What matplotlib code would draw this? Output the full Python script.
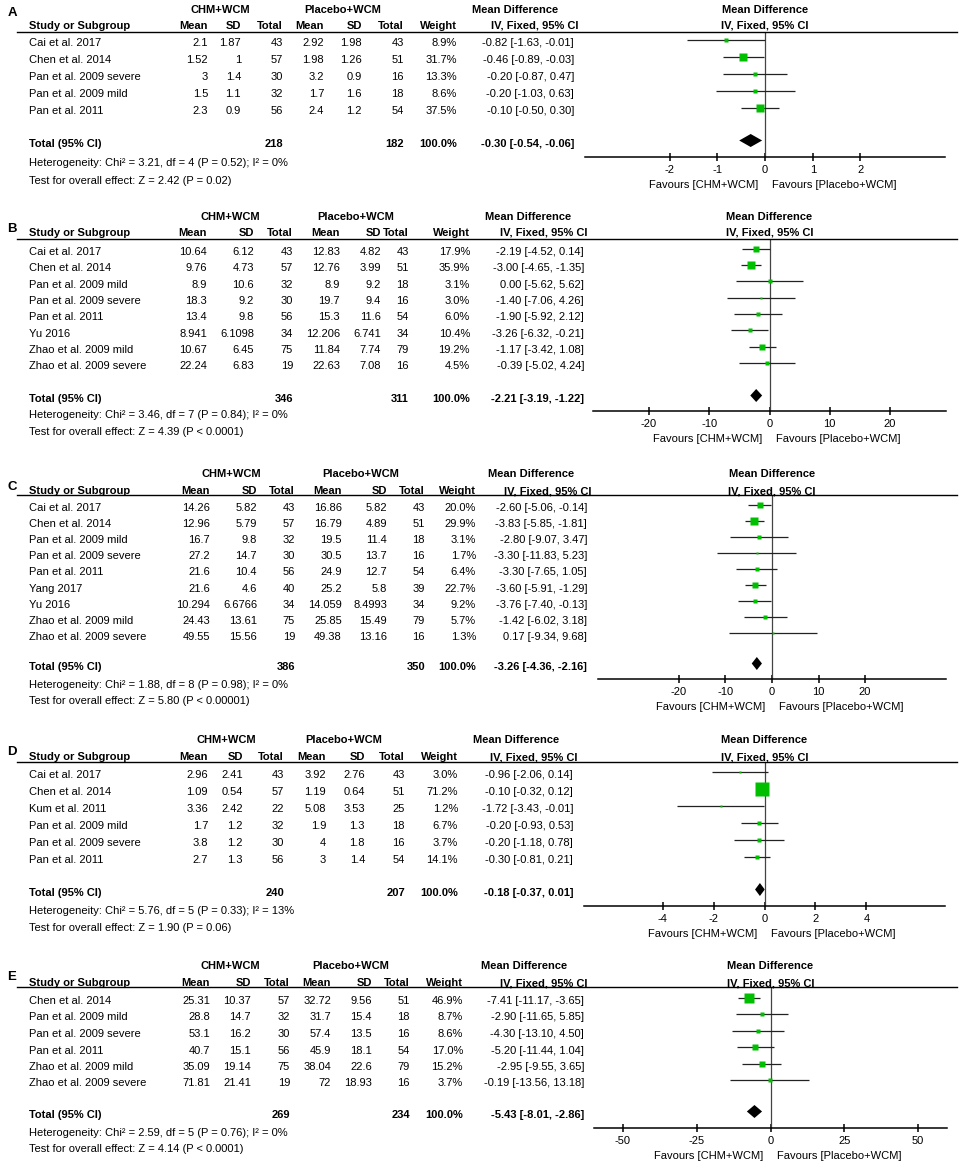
import matplotlib
matplotlib.use("Agg")
import matplotlib.pyplot as plt
from matplotlib.lines import Line2D

plt.rcParams['font.family'] = ['Liberation Sans', 'DejaVu Sans']

# ---- panel A ----
a_study = ["Cai et al. 2017", "Chen et al. 2014", "Pan et al. 2009 severe", "Pan et al. 2009 mild", "Pan et al. 2011"]
a_m1 = [2.1, 1.52, 3, 1.5, 2.3]
a_sd1 = [1.87, 1, 1.4, 1.1, 0.9]
a_n1 = [43, 57, 30, 32, 56]
a_m2 = [2.92, 1.98, 3.2, 1.7, 2.4]
a_sd2 = [1.98, 1.26, 0.9, 1.6, 1.2]
a_n2 = [43, 51, 16, 18, 54]
a_w = [8.9, 31.7, 13.3, 8.6, 37.5]
a_md = [-0.82, -0.46, -0.20, -0.20, -0.10]
a_lo = [-1.63, -0.89, -0.87, -1.03, -0.50]
a_hi = [-0.01, -0.03, 0.47, 0.63, 0.30]
a_total = [218, 182, -0.30, -0.54, -0.06]
a_het = "Heterogeneity: Chi² = 3.21, df = 4 (P = 0.52); I² = 0%"
a_test = "Test for overall effect: Z = 2.42 (P = 0.02)"
a_ticks = [-2, -1, 0, 1, 2]

# ---- panel B ----
b_study = ["Cai et al. 2017", "Chen et al. 2014", "Pan et al. 2009 mild", "Pan et al. 2009 severe",
           "Pan et al. 2011", "Yu 2016", "Zhao et al. 2009 mild", "Zhao et al. 2009 severe"]
b_m1 = [10.64, 9.76, 8.9, 18.3, 13.4, 8.941, 10.67, 22.24]
b_sd1 = [6.12, 4.73, 10.6, 9.2, 9.8, 6.1098, 6.45, 6.83]
b_n1 = [43, 57, 32, 30, 56, 34, 75, 19]
b_m2 = [12.83, 12.76, 8.9, 19.7, 15.3, 12.206, 11.84, 22.63]
b_sd2 = [4.82, 3.99, 9.2, 9.4, 11.6, 6.741, 7.74, 7.08]
b_n2 = [43, 51, 18, 16, 54, 34, 79, 16]
b_w = [17.9, 35.9, 3.1, 3.0, 6.0, 10.4, 19.2, 4.5]
b_md = [-2.19, -3.00, 0.00, -1.40, -1.90, -3.26, -1.17, -0.39]
b_lo = [-4.52, -4.65, -5.62, -7.06, -5.92, -6.32, -3.42, -5.02]
b_hi = [0.14, -1.35, 5.62, 4.26, 2.12, -0.21, 1.08, 4.24]
b_total = [346, 311, -2.21, -3.19, -1.22]
b_het = "Heterogeneity: Chi² = 3.46, df = 7 (P = 0.84); I² = 0%"
b_test = "Test for overall effect: Z = 4.39 (P < 0.0001)"
b_ticks = [-20, -10, 0, 10, 20]

# ---- panel C ----
c_study = ["Cai et al. 2017", "Chen et al. 2014", "Pan et al. 2009 mild", "Pan et al. 2009 severe",
           "Pan et al. 2011", "Yang 2017", "Yu 2016", "Zhao et al. 2009 mild", "Zhao et al. 2009 severe"]
c_m1 = [14.26, 12.96, 16.7, 27.2, 21.6, 21.6, 10.294, 24.43, 49.55]
c_sd1 = [5.82, 5.79, 9.8, 14.7, 10.4, 4.6, 6.6766, 13.61, 15.56]
c_n1 = [43, 57, 32, 30, 56, 40, 34, 75, 19]
c_m2 = [16.86, 16.79, 19.5, 30.5, 24.9, 25.2, 14.059, 25.85, 49.38]
c_sd2 = [5.82, 4.89, 11.4, 13.7, 12.7, 5.8, 8.4993, 15.49, 13.16]
c_n2 = [43, 51, 18, 16, 54, 39, 34, 79, 16]
c_w = [20.0, 29.9, 3.1, 1.7, 6.4, 22.7, 9.2, 5.7, 1.3]
c_md = [-2.60, -3.83, -2.80, -3.30, -3.30, -3.60, -3.76, -1.42, 0.17]
c_lo = [-5.06, -5.85, -9.07, -11.83, -7.65, -5.91, -7.40, -6.02, -9.34]
c_hi = [-0.14, -1.81, 3.47, 5.23, 1.05, -1.29, -0.13, 3.18, 9.68]
c_total = [386, 350, -3.26, -4.36, -2.16]
c_het = "Heterogeneity: Chi² = 1.88, df = 8 (P = 0.98); I² = 0%"
c_test = "Test for overall effect: Z = 5.80 (P < 0.00001)"
c_ticks = [-20, -10, 0, 10, 20]

# ---- panel D ----
d_study = ["Cai et al. 2017", "Chen et al. 2014", "Kum et al. 2011", "Pan et al. 2009 mild",
           "Pan et al. 2009 severe", "Pan et al. 2011"]
d_m1 = [2.96, 1.09, 3.36, 1.7, 3.8, 2.7]
d_sd1 = [2.41, 0.54, 2.42, 1.2, 1.2, 1.3]
d_n1 = [43, 57, 22, 32, 30, 56]
d_m2 = [3.92, 1.19, 5.08, 1.9, 4, 3]
d_sd2 = [2.76, 0.64, 3.53, 1.3, 1.8, 1.4]
d_n2 = [43, 51, 25, 18, 16, 54]
d_w = [3.0, 71.2, 1.2, 6.7, 3.7, 14.1]
d_md = [-0.96, -0.10, -1.72, -0.20, -0.20, -0.30]
d_lo = [-2.06, -0.32, -3.43, -0.93, -1.18, -0.81]
d_hi = [0.14, 0.12, -0.01, 0.53, 0.78, 0.21]
d_total = [240, 207, -0.18, -0.37, 0.01]
d_het = "Heterogeneity: Chi² = 5.76, df = 5 (P = 0.33); I² = 13%"
d_test = "Test for overall effect: Z = 1.90 (P = 0.06)"
d_ticks = [-4, -2, 0, 2, 4]

# ---- panel E ----
e_study = ["Chen et al. 2014", "Pan et al. 2009 mild", "Pan et al. 2009 severe", "Pan et al. 2011",
           "Zhao et al. 2009 mild", "Zhao et al. 2009 severe"]
e_m1 = [25.31, 28.8, 53.1, 40.7, 35.09, 71.81]
e_sd1 = [10.37, 14.7, 16.2, 15.1, 19.14, 21.41]
e_n1 = [57, 32, 30, 56, 75, 19]
e_m2 = [32.72, 31.7, 57.4, 45.9, 38.04, 72]
e_sd2 = [9.56, 15.4, 13.5, 18.1, 22.6, 18.93]
e_n2 = [51, 18, 16, 54, 79, 16]
e_w = [46.9, 8.7, 8.6, 17.0, 15.2, 3.7]
e_md = [-7.41, -2.90, -4.30, -5.20, -2.95, -0.19]
e_lo = [-11.17, -11.65, -13.10, -11.44, -9.55, -13.56]
e_hi = [-3.65, 5.85, 4.50, 1.04, 3.65, 13.18]
e_total = [269, 234, -5.43, -8.01, -2.86]
e_het = "Heterogeneity: Chi² = 2.59, df = 5 (P = 0.76); I² = 0%"
e_test = "Test for overall effect: Z = 4.14 (P < 0.0001)"
e_ticks = [-50, -25, 0, 25, 50]

W, H = 963, 1167
FS = 8
GREEN = '#00bf00'

# layout in pixels (from top-left); columns: study, mean, sd, total, mean, sd, total, weight, ci
layouts = [
    dict(letter="A", ly=13, h1=10, h2=26, hline=32, row0=43, drow=17.1, tot=144, het=163, test=181,
         cols=[29, 208, 241, 283, 324, 362, 404, 457, 574], grp=[220, 343, 515],
         ax=(585, 945, 157), lim=3.77),
    dict(letter="B", ly=229, h1=217, h2=233, hline=239, row0=252, drow=16.35, tot=399, het=415, test=432,
         cols=[29, 207, 254, 293, 340, 381, 409, 470, 584], grp=[230, 356, 528],
         ax=(593, 946, 411), lim=29.3),
    dict(letter="C", ly=487, h1=474, h2=491, hline=495, row0=508, drow=16.1, tot=667, het=685, test=701,
         cols=[29, 210, 257, 295, 342, 387, 425, 476, 587], grp=[231, 361, 531],
         ax=(598, 946, 679), lim=37.4),
    dict(letter="D", ly=752, h1=740, h2=757, hline=762, row0=775, drow=17, tot=893, het=911, test=928,
         cols=[29, 208, 243, 284, 326, 365, 405, 458, 573], grp=[226, 344, 516],
         ax=(584, 945, 906), lim=7.08),
    dict(letter="E", ly=977, h1=966, h2=983, hline=987, row0=1001, drow=16.5, tot=1115, het=1133, test=1149,
         cols=[29, 210, 251, 290, 331, 372, 410, 463, 584], grp=[230, 351, 524],
         ax=(594, 947, 1128), lim=59.8),
]

panels = [
    (a_study, a_m1, a_sd1, a_n1, a_m2, a_sd2, a_n2, a_w, a_md, a_lo, a_hi, a_total, a_het, a_test, a_ticks),
    (b_study, b_m1, b_sd1, b_n1, b_m2, b_sd2, b_n2, b_w, b_md, b_lo, b_hi, b_total, b_het, b_test, b_ticks),
    (c_study, c_m1, c_sd1, c_n1, c_m2, c_sd2, c_n2, c_w, c_md, c_lo, c_hi, c_total, c_het, c_test, c_ticks),
    (d_study, d_m1, d_sd1, d_n1, d_m2, d_sd2, d_n2, d_w, d_md, d_lo, d_hi, d_total, d_het, d_test, d_ticks),
    (e_study, e_m1, e_sd1, e_n1, e_m2, e_sd2, e_n2, e_w, e_md, e_lo, e_hi, e_total, e_het, e_test, e_ticks),
]

fig = plt.figure(figsize=(W / 100, H / 100), dpi=100)


def put(x, y, s, ha='left', bold=False, size=FS):
    fig.text(x / W, 1 - y / H, s, ha=ha, va='center', fontsize=size,
             fontweight='bold' if bold else 'normal')


def ci_txt(md, lo, hi):
    return "%.2f [%.2f, %.2f]" % (md, lo, hi)


for lay, p in zip(layouts, panels):
    study, m1, sd1, n1, m2, sd2, n2, w, md, lo, hi, total, het, test, ticks = p
    cols = lay['cols']
    x0, x1, ay = lay['ax']
    xc = (x0 + x1) / 2

    # header
    put(12, lay['ly'], lay['letter'], ha='center', bold=True, size=9.5)
    put(lay['grp'][0], lay['h1'], "CHM+WCM", ha='center', bold=True)
    put(lay['grp'][1], lay['h1'], "Placebo+WCM", ha='center', bold=True)
    put(lay['grp'][2], lay['h1'], "Mean Difference", ha='center', bold=True)
    put(xc, lay['h1'], "Mean Difference", ha='center', bold=True)
    put(cols[0], lay['h2'], "Study or Subgroup", bold=True)
    for c, lab in zip(cols[1:8], ["Mean", "SD", "Total", "Mean", "SD", "Total", "Weight"]):
        put(c, lay['h2'], lab, ha='right', bold=True)
    put(cols[8] + 4, lay['h2'], "IV, Fixed, 95% CI", ha='right', bold=True)
    put(xc, lay['h2'], "IV, Fixed, 95% CI", ha='center', bold=True)
    fig.add_artist(Line2D([17 / W, 957 / W], [1 - lay['hline'] / H] * 2, color='black', lw=1.0))

    # forest axes, y in pixel units from top
    ax = fig.add_axes([x0 / W, 1 - ay / H, (x1 - x0) / W, (ay - lay['hline']) / H])
    ax.set_xlim(-lay['lim'], lay['lim'])
    ax.set_ylim(ay, lay['hline'])
    ax.patch.set_alpha(0)
    for s in ['top', 'left', 'right']:
        ax.spines[s].set_visible(False)
    ax.spines['bottom'].set_linewidth(1.1)
    ax.set_yticks([])
    ax.set_xticks(ticks)
    ax.set_xticklabels([str(t) for t in ticks])
    ax.tick_params(axis='x', direction='inout', length=6, width=1.1, pad=3, labelsize=FS)
    ax.axvline(0, color='#444444', lw=0.9)

    # study rows
    for i in range(len(study)):
        ty = lay['row0'] + i * lay['drow']
        vals = ["%g" % m1[i], "%g" % sd1[i], str(n1[i]), "%g" % m2[i], "%g" % sd2[i], str(n2[i]),
                "%.1f%%" % w[i], ci_txt(md[i], lo[i], hi[i])]
        put(cols[0], ty, study[i])
        for c, v in zip(cols[1:], vals):
            put(c, ty, v, ha='right')
        my = ty - 3.5
        ax.plot([lo[i], hi[i]], [my, my], color='#222222', lw=0.9, solid_capstyle='butt')
        side = (2.5 + 0.165 * w[i]) * 0.72
        ax.plot(md[i], my, 's', ms=side, color=GREEN, mec='none')

    # total row
    ty = lay['tot']
    put(cols[0], ty, "Total (95% CI)", bold=True)
    put(cols[3], ty, str(total[0]), ha='right', bold=True)
    put(cols[6], ty, str(total[1]), ha='right', bold=True)
    put(cols[7], ty, "100.0%", ha='right', bold=True)
    put(cols[8], ty, ci_txt(total[2], total[3], total[4]), ha='right', bold=True)
    my = ty - 3.5
    ax.fill([total[3], total[2], total[4], total[2]], [my, my - 6.5, my, my + 6.5], color='black', lw=0)
    put(cols[0], lay['het'], het)
    put(cols[0], lay['test'], test)

    # favours labels
    ax.annotate("Favours [CHM+WCM]", xy=(0, 0), xycoords=('data', 'axes fraction'),
                xytext=(-5, -28 * 0.72), textcoords='offset points', ha='right', va='center', fontsize=FS)
    ax.annotate("Favours [Placebo+WCM]", xy=(0, 0), xycoords=('data', 'axes fraction'),
                xytext=(5, -28 * 0.72), textcoords='offset points', ha='left', va='center', fontsize=FS)

fig.savefig("out.png", dpi=100)
